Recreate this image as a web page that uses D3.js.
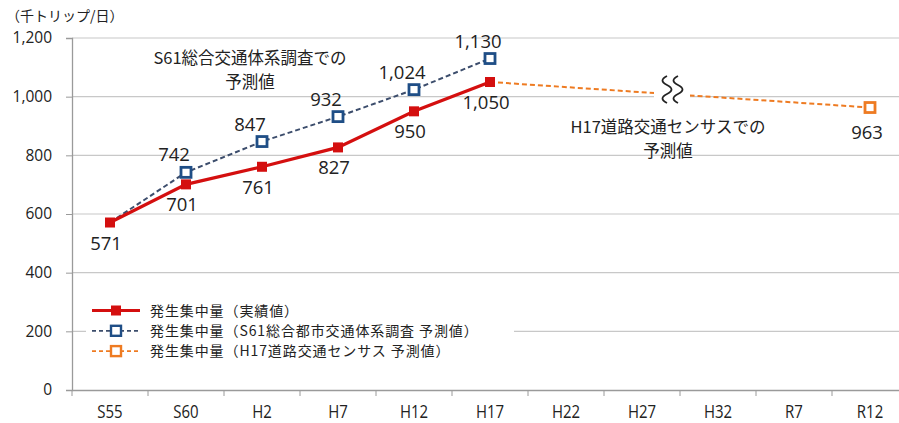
<!DOCTYPE html>
<html lang="ja">
<head>
<meta charset="utf-8">
<script src="https://cdn.jsdelivr.net/npm/d3@7/dist/d3.min.js"></script>
<style>
  html, body { margin: 0; padding: 0; background: #fff; }
  svg { display: block; font-family: "Noto Sans CJK JP", "Noto Sans", sans-serif; }
</style>
</head>
<body>
<svg id="chart" width="899" height="423"></svg>
<script>
// 年次区分
const categories = ["S55", "S60", "H2", "H7", "H12", "H17", "H22", "H27", "H32", "R7", "R12"];
// 発生集中量（実績値）
const actualValues = [571, 701, 761, 827, 950, 1050, null, null, null, null, null];
// 発生集中量（S61総合都市交通体系調査 予測値）
const s61Forecast = [571, 742, 847, 932, 1024, 1130, null, null, null, null, null];
// 発生集中量（H17道路交通センサス 予測値）
const h17Forecast = [null, null, null, null, null, 1050, null, null, null, null, 963];
const yTicks = [0, 200, 400, 600, 800, 1000, 1200];
const legendLabels = [
  "発生集中量（実績値）",
  "発生集中量（S61総合都市交通体系調査 予測値）",
  "発生集中量（H17道路交通センサス 予測値）"
];

const svg = d3.select("#chart");
const margin = { left: 72, top: 38, bottom: 390 };
const plotRight = 908;

const x = d3.scaleBand().domain(categories).range([margin.left, plotRight]).padding(0);
const y = d3.scaleLinear().domain([0, 1200]).range([margin.bottom, margin.top]);
const cx = c => x(c) + x.bandwidth() / 2;

const red = "#d40f0f", blue = "#1f4e86", blueLine = "#3c4d6c", orange = "#ee7b22";

// 横グリッド線
svg.append("g").selectAll("line").data(yTicks.filter(v => v > 0)).join("line")
  .attr("x1", margin.left).attr("x2", 899)
  .attr("y1", d => y(d)).attr("y2", d => y(d))
  .attr("stroke", "#c8c8c8").attr("stroke-width", 1.2);

// Y軸
const yAxis = svg.append("g").attr("transform", `translate(${margin.left},0)`)
  .call(d3.axisLeft(y).tickValues(yTicks).tickSize(6).tickPadding(14).tickFormat(d3.format(",")));
yAxis.select(".domain").attr("stroke", "#9a9a9a").attr("stroke-width", 1.3);
yAxis.selectAll(".tick line").attr("stroke", "#9a9a9a");
yAxis.selectAll("text").attr("font-size", 15.5).attr("fill", "#222")
  .style("font-family", "'Open Sans', 'Noto Sans', sans-serif");

// X軸
const xAxis = svg.append("g").attr("transform", `translate(0,${margin.bottom})`)
  .call(d3.axisBottom(x).tickSize(0).tickPadding(14));
xAxis.select(".domain").attr("stroke", "#9a9a9a").attr("stroke-width", 1.3);
xAxis.selectAll("text").attr("font-size", 15).attr("fill", "#222")
  .style("font-family", "'Liberation Sans Narrow', 'Open Sans', sans-serif")
  .attr("transform", "scale(1,1.15)");
// 区分境界の目盛り
svg.append("g").selectAll("line").data(categories).join("line")
  .attr("x1", d => x(d)).attr("x2", d => x(d))
  .attr("y1", margin.bottom).attr("y2", margin.bottom + 6)
  .attr("stroke", "#9a9a9a");

// 単位
svg.append("text").attr("x", 6).attr("y", 21).attr("font-size", 14).attr("fill", "#222")
  .text("（千トリップ/日）");

// 系列線
const line = d3.line().defined(d => d.v != null).x(d => cx(d.c)).y(d => y(d.v));
const toPts = arr => categories.map((c, i) => ({ c, v: arr[i] }));

const h17Pts = toPts(h17Forecast).filter(d => d.v != null);
svg.append("path").datum(h17Pts)
  .attr("d", d3.line().x(d => cx(d.c)).y(d => y(d.v)))
  .attr("fill", "none").attr("stroke", orange).attr("stroke-width", 2)
  .attr("stroke-dasharray", "5,3");

// 省略記号（波線）
const breakX = (cx("H27") + cx("H32")) / 2 - 8;
svg.append("rect").attr("x", breakX - 18).attr("y", y(1085)).attr("width", 36).attr("height", 34)
  .attr("fill", "#fff");
[-5, 6].forEach(dx => {
  const x0 = breakX + dx, y0 = y(1060) - 3, h = 27;
  svg.append("path")
    .attr("d", `M${x0},${y0} c-6,3 -6,6 0,${h / 3} c6,3 6,6 0,${h / 3} c-6,3 -6,6 0,${h / 3}`)
    .attr("fill", "none").attr("stroke", "#222").attr("stroke-width", 1.8);
});

svg.append("path").datum(toPts(s61Forecast)).attr("d", line)
  .attr("fill", "none").attr("stroke", blueLine).attr("stroke-width", 2)
  .attr("stroke-dasharray", "5,3");
svg.append("path").datum(toPts(actualValues)).attr("d", line)
  .attr("fill", "none").attr("stroke", red).attr("stroke-width", 3.2);

// マーカー
const mk = 10;
svg.append("g").selectAll("rect").data(toPts(s61Forecast).filter((d, i) => d.v != null && i > 0)).join("rect")
  .attr("x", d => cx(d.c) - mk / 2).attr("y", d => y(d.v) - mk / 2)
  .attr("width", mk).attr("height", mk)
  .attr("fill", "#fff").attr("stroke", blue).attr("stroke-width", 2.8);
svg.append("g").selectAll("rect").data(toPts(actualValues).filter(d => d.v != null)).join("rect")
  .attr("x", d => cx(d.c) - mk / 2).attr("y", d => y(d.v) - mk / 2)
  .attr("width", mk).attr("height", mk).attr("fill", red);
svg.append("g").selectAll("rect").data(h17Pts.slice(1)).join("rect")
  .attr("x", d => cx(d.c) - mk / 2).attr("y", d => y(d.v) - mk / 2)
  .attr("width", mk).attr("height", mk)
  .attr("fill", "#fff").attr("stroke", orange).attr("stroke-width", 2.8);

// 値ラベル
const fmt = d3.format(",");
const labelFont = "'Open Sans', 'Noto Sans', sans-serif";
function valueLabels(pts, dx, dy) {
  svg.append("g").selectAll("text").data(pts).join("text")
    .attr("x", d => cx(d.c) + dx).attr("y", d => y(d.v) + dy)
    .attr("text-anchor", "middle").attr("font-size", 18.5).attr("fill", "#222")
    .style("font-family", labelFont)
    .text(d => fmt(d.v));
}
valueLabels(toPts(actualValues).filter(d => d.v != null), -4, 27);
valueLabels(toPts(s61Forecast).filter((d, i) => d.v != null && i > 0), -12, -11);
valueLabels(h17Pts.slice(1), -3, 31);

// 注記
function note(lines, xc, y0) {
  lines.forEach((t, i) => svg.append("text").attr("x", xc).attr("y", y0 + i * 24)
    .attr("text-anchor", "middle").attr("font-size", 16.5).attr("fill", "#222").text(t));
}
note(["S61総合交通体系調査での", "予測値"], 250, 64);
note(["H17道路交通センサスでの", "予測値"], 668, 133);

// 凡例
const lg = svg.append("g");
lg.append("rect").attr("x", 86).attr("y", 300).attr("width", 428).attr("height", 62).attr("fill", "#fff");
const rows = [
  { color: red, dash: null, fill: red, w: 3.2 },
  { color: blueLine, mcolor: blue, dash: "4,3", fill: "#fff", w: 1.8 },
  { color: orange, dash: "4,3", fill: "#fff", w: 1.8 }
];
rows.forEach((r, i) => {
  const yy = 310.5 + i * 20.3;
  lg.append("line").attr("x1", 92).attr("x2", 140).attr("y1", yy).attr("y2", yy)
    .attr("stroke", r.color).attr("stroke-width", r.w).attr("stroke-dasharray", r.dash);
  lg.append("rect").attr("x", 116 - mk / 2).attr("y", yy - mk / 2).attr("width", mk).attr("height", mk)
    .attr("fill", r.fill).attr("stroke", i === 0 ? "none" : (r.mcolor || r.color)).attr("stroke-width", 2.4);
  lg.append("text").attr("x", 150).attr("y", yy + 5).attr("font-size", 14).attr("fill", "#222")
    .attr("letter-spacing", 0.9)
    .text(legendLabels[i]);
});
</script>
</body>
</html>
